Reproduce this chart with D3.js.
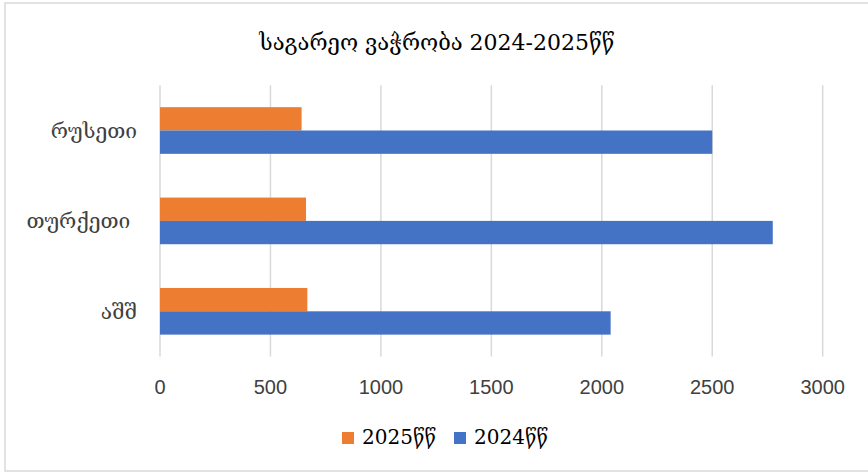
<!DOCTYPE html>
<html>
<head>
<meta charset="utf-8">
<script src="https://cdn.jsdelivr.net/npm/d3@7"></script>
<style>
  body { margin: 0; background: #fff; }
  svg { display: block; }
</style>
</head>
<body>
<svg width="868" height="473"></svg>
<script>
(function () {

var countries = ["რუსეთი", "თურქეთი ", "აშშ"];
var seriesNames = ["2025წწ", "2024წწ"];
var values2025 = [641, 661, 667];
var values2024 = [2500, 2774, 2040];
var ticks = [0, 500, 1000, 1500, 2000, 2500, 3000];
var colors = ["#ed7d31", "#4472c4"];

var georgianFont = "'DejaVu Serif', serif";
var numFont = "'Liberation Sans Narrow', 'Liberation Sans', sans-serif";

var svg = d3.select('svg');

// chart border
svg.append('rect')
  .attr('x', 5).attr('y', 3)
  .attr('width', 880).attr('height', 468)
  .style('fill', '#fff')
  .style('stroke', '#d9d9d9').style('stroke-width', 1.5);

var x = d3.scaleLinear().domain([0, 3000]).range([160, 822.7]);
var y = d3.scaleBand().domain(countries).range([85.3, 356.5])
  .paddingInner(0.484).paddingOuter(0.242);
var sub = d3.scaleBand().domain(seriesNames).range([0, y.bandwidth()]);

// gridlines
svg.selectAll('.grid').data(ticks).enter().append('line')
  .attr('x1', d => x(d)).attr('x2', d => x(d))
  .attr('y1', 85.3).attr('y2', 356.5)
  .style('stroke', '#d9d9d9').style('stroke-width', 1.5);

// tick labels
svg.selectAll('.tick').data(ticks).enter().append('text')
  .attr('x', d => x(d)).attr('y', 394)
  .attr('text-anchor', 'middle')
  .style('font-family', numFont).style('font-size', '20px')
  .style('fill', '#404040')
  .text(d => d);

var series = [values2025, values2024];

series.forEach(function (vals, s) {
  svg.selectAll('.bar' + s).data(countries).enter().append('rect')
    .attr('x', x(0))
    .attr('y', d => y(d) + sub(seriesNames[s]))
    .attr('width', (d, i) => x(vals[i]) - x(0))
    .attr('height', sub.bandwidth())
    .style('fill', colors[s]);
});

// category labels
svg.selectAll('.cat').data(countries).enter().append('text')
  .attr('x', 137)
  .attr('y', d => y(d) + y.bandwidth() / 2)
  .attr('dy', '0.35em')
  .attr('text-anchor', 'end')
  .style('white-space', 'pre')
  .style('font-family', georgianFont).style('font-size', '21px')
  .style('fill', '#404040')
  .text(d => d);

// title
svg.append('text')
  .attr('x', 437).attr('y', 50)
  .attr('text-anchor', 'middle')
  .style('font-family', georgianFont).style('font-size', '22px')
  .style('fill', '#000')
  .text('საგარეო ვაჭრობა 2024-2025წწ');

// legend
var legendX = [342, 454];
seriesNames.forEach(function (name, i) {
  svg.append('rect')
    .attr('x', legendX[i]).attr('y', 432)
    .attr('width', 12).attr('height', 12)
    .style('fill', colors[i]);
  svg.append('text')
    .attr('x', legendX[i] + 20).attr('y', 444)
    .style('font-family', georgianFont).style('font-size', '20px')
    .style('fill', '#000')
    .text(name);
});

})();
</script>
</body>
</html>
